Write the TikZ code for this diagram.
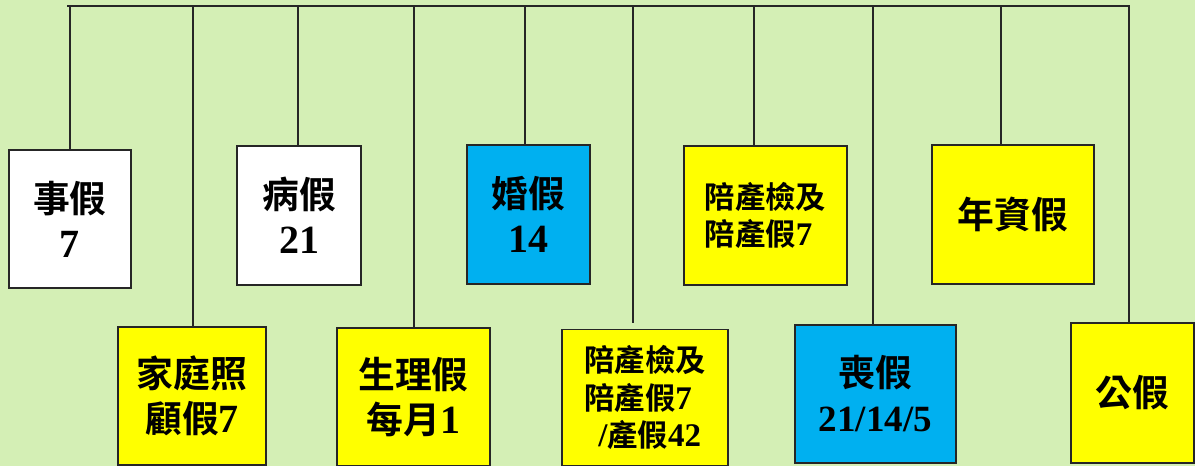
\documentclass[tikz,border=0pt]{standalone}
\usepackage{fontspec}
\setmainfont{Liberation Serif}[UprightFont={* Bold},BoldFont={* Bold}]
\newfontfamily\cjk{Noto Sans CJK TC}[UprightFont={* Bold},BoldFont={* Bold},Scale=0.92]
\newcommand\cj[1]{{\cjk #1}}
\definecolor{bgc}{RGB}{212,239,181}
\definecolor{linec}{RGB}{38,38,38}
\definecolor{bluec}{RGB}{0,176,240}
\definecolor{yelc}{RGB}{255,255,0}
\begin{document}
\begin{tikzpicture}[x=1pt,y=-1pt,
  box/.style={draw=linec, line width=1.3pt, inner sep=0pt, align=center,
    font=\fontsize{40}{45}\selectfont},
  smallbox/.style={box, align=left, font=\fontsize{33}{37.5}\selectfont},
  whitebox/.style={box, fill=white},
  bluebox/.style={box, fill=bluec},
  yelbox/.style={box, fill=yelc},
  conn/.style={draw=linec, line width=1.3pt}]
\fill[bgc] (0,0) rectangle (1195,466);
\useasboundingbox (0,0) rectangle (1195,466);

% boxes
\node[whitebox, minimum width=122, minimum height=138] (n1) at (70,219) {\cj{事假}\\7};
\node[yelbox, minimum width=148, minimum height=138] (n2) at (192,396) {\cj{家庭照}\\\cj{顧假}7};
\node[whitebox, minimum width=124, minimum height=139] (n3) at (299,215.5) {\cj{病假}\\21};
\node[yelbox, minimum width=153, minimum height=138] (n4) at (413.5,397) {\cj{生理假}\\\cj{每月}1};
\node[bluebox, minimum width=123, minimum height=139] (n5) at (528.5,214.5) {\cj{婚假}\\14};
\node[smallbox, fill=yelc, minimum width=166, minimum height=136] (n6) at (645,397.5)
  {\cj{陪產檢及}\\\cj{陪產假}7\\\hspace*{14pt}/\cj{產假}42};
\node[smallbox, fill=yelc, minimum width=163, minimum height=139] (n7) at (765.5,215.5)
  {\cj{陪產檢及}\\\cj{陪產假}7};
\node[bluebox, minimum width=161, minimum height=138] (n8) at (875.5,394) {\cj{喪假}\\{\fontsize{37}{45}\selectfont 21/14/5}};
\node[yelbox, minimum width=162, minimum height=139] (n9) at (1013,214.5) {\cj{年資假}};
\node[yelbox, minimum width=123, minimum height=140] (n10) at (1132.5,393) {\cj{公假}};

% top bar
\coordinate (bl) at (67,6);
\coordinate (br) at (1130,6);
\draw[conn] (bl) -- (br);
\coordinate (t1) at (70,6);
\coordinate (t2) at (193,6);
\coordinate (t3) at (298,6);
\coordinate (t4) at (414,6);
\coordinate (t5) at (525,6);
\coordinate (t6) at (633,6);
\coordinate (t7) at (754,6);
\coordinate (t8) at (873,6);
\coordinate (t9) at (1001,6);
\coordinate (t10) at (1129,6);
\foreach \i in {1,2,3,4,5,7,8,9,10} {
  \draw[conn] (t\i) -- (t\i |- n\i.north);
}
\draw[conn, shorten >=6pt] (t6) -- (t6 |- n6.north);
\end{tikzpicture}
\end{document}
